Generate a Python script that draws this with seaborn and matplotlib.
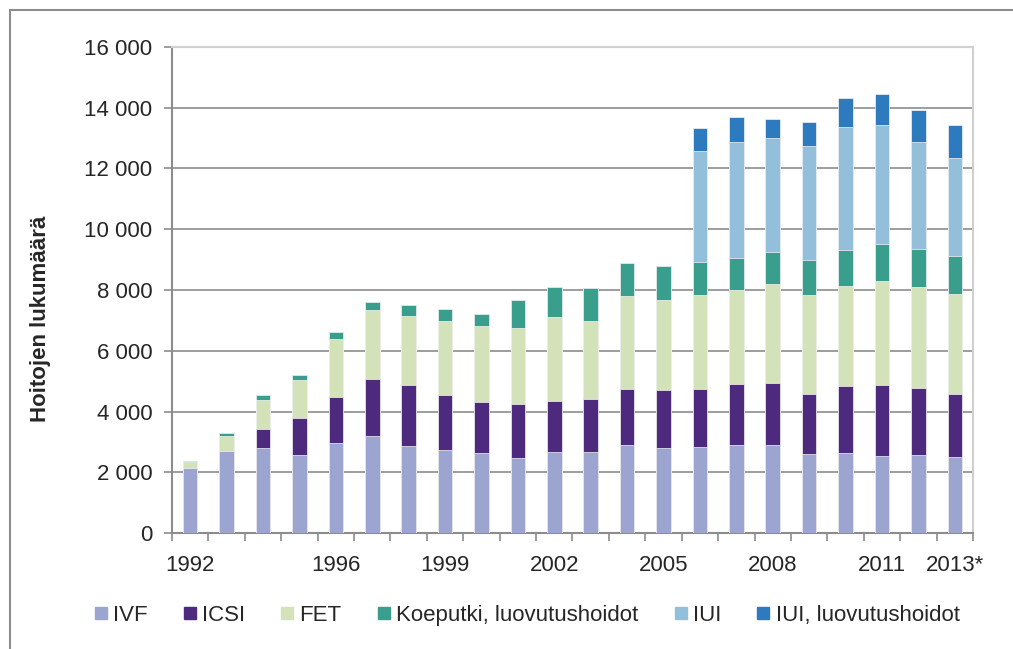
import numpy as np
import pandas as pd
import seaborn as sns
import matplotlib
matplotlib.use("Agg")
from matplotlib import pyplot as plt
from matplotlib.lines import Line2D
from matplotlib.ticker import FuncFormatter, MultipleLocator

# vuodet ja hoitomäärät (luettu kuvasta)
years = [str(y) for y in range(1992, 2014)]
year_labels = ['1992', '', '', '', '1996', '', '', '1999', '', '', '2002', '',
               '', '2005', '', '', '2008', '', '', '2011', '', '2013*']

ivf = [2140, 2690, 2800, 2560, 2975, 3205, 2855, 2745, 2645, 2470, 2655,
       2665, 2910, 2800, 2845, 2910, 2910, 2610, 2625, 2545, 2570, 2505]
icsi = [0, 0, 625, 1230, 1505, 1875, 2020, 1810, 1670, 1790, 1700,
        1760, 1845, 1920, 1910, 2000, 2030, 1955, 2230, 2340, 2205, 2060]
fet = [190, 515, 955, 1240, 1920, 2250, 2285, 2415, 2490, 2500, 2755,
       2555, 3040, 2965, 3085, 3085, 3270, 3260, 3270, 3415, 3315, 3315]
koeputki = [50, 85, 165, 180, 220, 270, 330, 395, 415, 920, 990,
            1090, 1110, 1120, 1075, 1065, 1030, 1175, 1195, 1230, 1275, 1250]
iui = [0, 0, 0, 0, 0, 0, 0, 0, 0, 0, 0,
       0, 0, 0, 3655, 3800, 3755, 3730, 4060, 3895, 3500, 3230]
iui_luov = [0, 0, 0, 0, 0, 0, 0, 0, 0, 0, 0,
            0, 0, 0, 755, 825, 625, 815, 955, 1030, 1045, 1085]

series = ['IVF', 'ICSI', 'FET', 'Koeputki, luovutushoidot', 'IUI', 'IUI, luovutushoidot']
colors = ['#9ba5cf', '#4e2a7f', '#d3e2b8', '#3a9e8d', '#94bfdb', '#2e7abf']

df = pd.DataFrame({'year': years, 'IVF': ivf, 'ICSI': icsi, 'FET': fet,
                   'Koeputki, luovutushoidot': koeputki, 'IUI': iui,
                   'IUI, luovutushoidot': iui_luov})
cum = df[series].cumsum(axis=1)

sns.set_style("white")
plt.rcParams['font.family'] = ['Liberation Sans', 'DejaVu Sans']

fig = plt.figure(figsize=(10.13, 6.49), dpi=100)
ax = fig.add_axes([0.1698, 0.1787, 0.7907, 0.7489])

# pinotut pylväät: piirretään ylimmästä kertymästä alaspäin
for name, col in reversed(list(zip(series, colors))):
    sns.barplot(x=df['year'], y=cum[name], color=col, width=0.4, errorbar=None,
                saturation=1, edgecolor='#f4f4f4', linewidth=0.5, ax=ax, zorder=3)

ax.set_ylim(0, 16000)
ax.set_xlim(-0.5, len(years) - 0.5)
ax.yaxis.set_major_locator(MultipleLocator(2000))
ax.yaxis.set_major_formatter(FuncFormatter(lambda v, p: f"{int(v):,}".replace(',', ' ')))
ax.grid(axis='y', color='#8c8c8c', linewidth=1.2, zorder=0)
ax.set_axisbelow(True)

ax.set_xticks(range(len(years)))
ax.set_xticklabels(year_labels)
ax.set_xticks(np.arange(-0.5, len(years), 1), minor=True)
ax.tick_params(axis='x', which='major', length=0, pad=16, labelsize=16)
ax.tick_params(axis='x', which='minor', length=6, width=1.2, color='#8c8c8c', direction='out')
ax.tick_params(axis='y', length=6, width=1.2, color='#8c8c8c', direction='out', labelsize=16, pad=8)
ax.xaxis.set_ticks_position('bottom')
ax.yaxis.set_ticks_position('left')

ax.set_xlabel('')
ax.set_ylabel('Hoitojen lukumäärä', fontsize=16, fontweight='bold')
ax.yaxis.set_label_coords(-0.151, 0.44)

for side in ['left', 'bottom']:
    ax.spines[side].set_color('#8c8c8c')
    ax.spines[side].set_linewidth(1.5)
for side in ['top', 'right']:
    ax.spines[side].set_color('#d0d0d0')
    ax.spines[side].set_linewidth(1.5)

handles = [Line2D([], [], marker='s', linestyle='', markersize=9,
                  markerfacecolor=c, markeredgecolor=c) for c in colors]
fig.legend(handles, series, loc='center', bbox_to_anchor=(0.52, 0.052), ncol=6,
           frameon=False, fontsize=16, handlelength=0.6, handletextpad=0.25,
           columnspacing=1.6, borderaxespad=0)

# ulkokehys (vasen ja ylä)
fig.add_artist(Line2D([10 / 1013, 10 / 1013], [0, 1 - 10 / 649], transform=fig.transFigure,
                      color='#8c8c8c', linewidth=1.5))
fig.add_artist(Line2D([10 / 1013, 1], [1 - 10 / 649, 1 - 10 / 649], transform=fig.transFigure,
                      color='#8c8c8c', linewidth=1.5))

fig.savefig('out.png', dpi=100)
